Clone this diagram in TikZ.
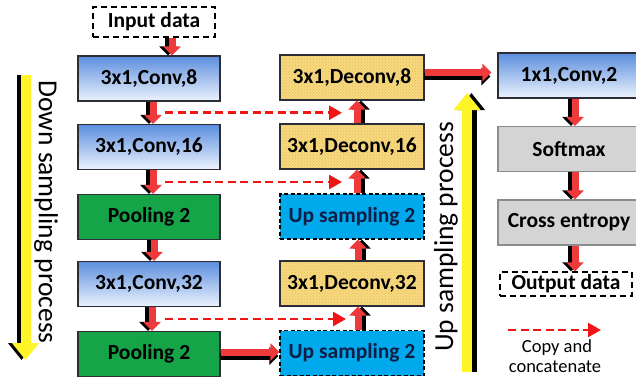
\documentclass[tikz,border=0pt]{standalone}
\usepackage{fontspec}
\setmainfont{Carlito}
\usetikzlibrary{arrows.meta,calc,patterns}

\definecolor{convtop}{RGB}{92,142,222}
\definecolor{convbottom}{RGB}{236,243,253}
\definecolor{deconvfill}{RGB}{247,217,126}
\definecolor{deconvdots}{RGB}{226,186,92}
\definecolor{poolgreen}{RGB}{22,164,72}
\definecolor{upcyan}{RGB}{0,168,236}
\definecolor{graybg}{RGB}{212,212,212}
\definecolor{graydraw}{RGB}{140,140,140}
\definecolor{arrowred}{RGB}{238,58,58}
\definecolor{dashred}{RGB}{240,22,22}
\definecolor{procyellow}{RGB}{255,244,40}
\definecolor{boxline}{RGB}{45,45,55}

% red block arrow with a black drop shadow: #1 shadow offset, #2 start, #3 end
\newcommand{\flowarrow}[3]{%
  \draw[blkshadow] ($#2+#1$) -- ($#3+#1$);
  \draw[blk] ($#2$) -- ($#3$);}

\begin{document}
\begin{tikzpicture}[x=1pt,y=-1pt,
  box/.style={draw=boxline, line width=1.1pt, minimum width=142pt, minimum height=45pt,
    inner sep=0pt, font=\fontsize{21.5}{25}\selectfont\bfseries, text=black},
  convbox/.style={box, top color=convtop, bottom color=convbottom},
  deconvbox/.style={box, preaction={fill=deconvfill}, pattern=crosshatch dots, pattern color=deconvdots},
  poolbox/.style={box, fill=poolgreen},
  upbox/.style={box, fill=upcyan, draw=black, dash pattern=on 4pt off 2.5pt, text={rgb,255:red,14;green,30;blue,70}},
  graybox/.style={box, fill=graybg, draw=graydraw},
  iobox/.style={draw=black, line width=1.3pt, dash pattern=on 6pt off 4pt, inner sep=0pt,
    font=\fontsize{21.5}{25}\selectfont\bfseries},
  blk/.style={line width=7pt, draw=arrowred, -{Triangle[length=9pt,width=17pt]}},
  blkshadow/.style={blk, draw=black},
  copyarrow/.style={draw=dashred, line width=2.6pt, dash pattern=on 8pt off 4.5pt,
    -{Triangle[length=13pt,width=14pt]}},
  process/.style={line width=10pt, draw=procyellow, -{Triangle[length=17pt,width=26pt]}},
  processshadow/.style={process, draw=black},
  proclabel/.style={font=\fontsize{27.5}{31}\selectfont, inner sep=0pt},
  legendtext/.style={font=\fontsize{18.5}{21}\selectfont, inner sep=0pt}
]
\clip (0,0) rectangle (636,376);
\fill[white] (0,0) rectangle (636,376);

% ---- encoder column ----
\node[iobox, minimum width=122pt, minimum height=30pt] (in) at (154,22) {Input data};
\node[convbox] (c8)  at (149,78.5) {3x1,Conv,8};
\node[convbox] (c16) at (149,147) {3x1,Conv,16};
\node[poolbox] (p1)  at (149,217) {Pooling 2};
\node[convbox] (c32) at (149,284) {3x1,Conv,32};
\node[poolbox] (p2)  at (149,354) {Pooling 2};

% ---- decoder column ----
\node[deconvbox, minimum width=144pt] (d8)  at (352,77.5) {3x1,Deconv,8};
\node[deconvbox, minimum width=144pt] (d16) at (352,146.5) {3x1,Deconv,16};
\node[upbox, minimum width=144pt]     (u1)  at (352,216.5) {Up sampling 2};
\node[deconvbox, minimum width=144pt] (d32) at (352,283.5) {3x1,Deconv,32};
\node[upbox, minimum width=144pt]     (u2)  at (352,353) {Up sampling 2};

% ---- output column ----
\node[convbox] (k2)  at (569,75.5) {1x1,Conv,2};
\node[graybox] (sm)  at (569,149) {Softmax};
\node[graybox] (ce)  at (569,222.5) {Cross entropy};
\node[iobox, minimum width=132pt, minimum height=24pt] (out) at (566,284) {Output data};

% ---- flow arrows ----
\flowarrow{(-4,0)}{(in.south)+(18,0)}{(c8.north)+(23,0)}
\flowarrow{(-4,0)}{(c8.south)+(4,0)}{(c16.north)+(4,0)}
\flowarrow{(-4,0)}{(c16.south)+(4,0)}{(p1.north)+(4,0)}
\flowarrow{(-4,0)}{(p1.south)+(5,0)}{(c32.north)+(5,0)}
\flowarrow{(-4,0)}{(c32.south)+(3,0)}{(p2.north)+(3,0)}
\flowarrow{(-1,4)}{(p2.east)+(0,-2)}{(u2.west)+(0,-1)}
\flowarrow{(4,0)}{(u2.north)+(6,0)}{(d32.south)+(6,0)}
\flowarrow{(4,0)}{(d32.north)+(6,0)}{(u1.south)+(6,0)}
\flowarrow{(4,0)}{(u1.north)+(5,0)}{(d16.south)+(5,0)}
\flowarrow{(4,0)}{(d16.north)+(5,0)}{(d8.south)+(5,0)}
\flowarrow{(-1,4)}{(d8.east)+(0,-5)}{(k2.west)+(-6,-3)}
\flowarrow{(-4,0)}{(k2.south)+(6,0)}{(sm.north)+(6,0)}
\flowarrow{(-4,0)}{(sm.south)+(6,0)}{(ce.north)+(6,0)}
\flowarrow{(-4,0)}{(ce.south)+(6,0)}{(out.north)+(9,0)}

% ---- skip connections ----
\coordinate (s1) at ($(c8.south)!0.5!(c16.north)+(16,0)$);
\coordinate (e1) at ($(d8.south)!0.5!(d16.north)+(-10,0)$);
\coordinate (s2) at ($(c16.south)!0.5!(p1.north)+(16,0)$);
\coordinate (e2) at ($(d16.south)!0.5!(u1.north)+(-10,0)$);
\coordinate (s3) at ($(c32.south)!0.5!(p2.north)+(16,0)$);
\coordinate (e3) at ($(d32.south)!0.5!(u2.north)+(-6,0)$);
\draw[copyarrow] (s1) -- (s1 -| e1);
\draw[copyarrow] (s2) -- (s2 -| e2);
\draw[copyarrow] (s3) -- (s3 -| e3);

% ---- process arrows ----
\coordinate (dtop) at (25.5,75);
\coordinate (dtip) at (25.5,360);
\draw[processshadow] ([xshift=-4pt]dtop) -- ([xshift=-4pt]dtip);
\draw[process] (dtop) -- (dtip);
\node[proclabel, rotate=-90] (dlabel) at (46,212) {Down sampling process};

\coordinate (ubot) at (467,372);
\coordinate (utip) at (467,93);
\draw[processshadow] ([xshift=4.5pt]ubot) -- ([xshift=4.5pt]utip);
\draw[process] (ubot) -- (utip);
\node[proclabel, rotate=90] (ulabel) at (446,237) {Up sampling process};

% ---- legend ----
\coordinate (lg1) at (508,330);
\coordinate (lg2) at (601,330);
\draw[copyarrow] (lg1) -- (lg2);
\node[legendtext] (lgt1) at (557,348) {Copy and};
\node[legendtext] (lgt2) at (555,367) {concatenate};
\end{tikzpicture}
\end{document}
